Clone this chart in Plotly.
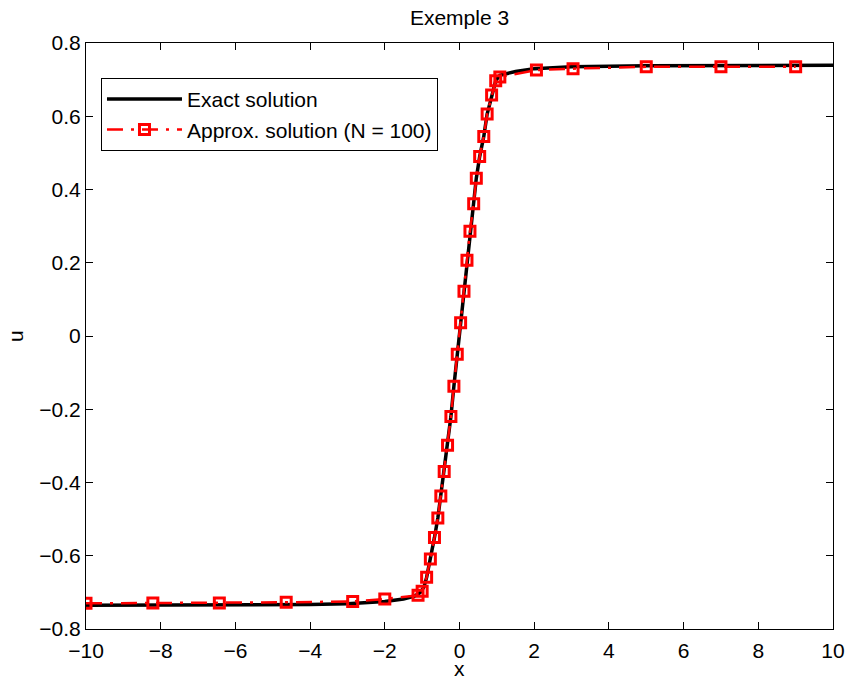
import plotly.graph_objects as go

# Exact solution
exact_x = [-10, -8, -6, -4, -3, -2, -1.5, -1.2, -1.05, -0.95, -0.88, -0.78, -0.67, -0.58,
           -0.5, -0.41, -0.32, -0.23, -0.15, -0.06, 0.03, 0.12, 0.2, 0.28, 0.38, 0.45,
           0.54, 0.65, 0.74, 0.86, 0.97, 1.08, 1.5, 2, 3, 5, 7, 10]
exact_u = [-0.735, -0.735, -0.734, -0.733, -0.731, -0.725, -0.718, -0.710, -0.700, -0.685,
           -0.659, -0.609, -0.550, -0.497, -0.437, -0.370, -0.298, -0.220, -0.137, -0.050,
           0.036, 0.122, 0.207, 0.286, 0.361, 0.431, 0.490, 0.545, 0.606, 0.658, 0.697,
           0.712, 0.722, 0.730, 0.735, 0.738, 0.739, 0.739]

# Approximate solution (N = 100), visible markers
approx_x = [-10, -8.21, -6.43, -4.64, -2.86, -2.0, -1.11, -1.0, -0.88, -0.78, -0.67, -0.58,
            -0.5, -0.41, -0.32, -0.23, -0.15, -0.06, 0.03, 0.12, 0.2, 0.28, 0.38, 0.45,
            0.54, 0.65, 0.74, 0.86, 0.97, 1.08, 2.06, 3.04, 5.0, 7.0, 9.0]
approx_u = [-0.730, -0.729, -0.729, -0.727, -0.725, -0.718, -0.708, -0.697, -0.659, -0.609,
            -0.550, -0.497, -0.437, -0.370, -0.298, -0.220, -0.137, -0.050, 0.036, 0.122,
            0.207, 0.286, 0.361, 0.431, 0.490, 0.545, 0.606, 0.658, 0.697, 0.707, 0.726,
            0.730, 0.735, 0.735, 0.735]

x_ticks = [-10, -8, -6, -4, -2, 0, 2, 4, 6, 8, 10]
u_ticks = [-0.8, -0.6, -0.4, -0.2, 0, 0.2, 0.4, 0.6, 0.8]
u_tick_text = ["\u22120.8", "\u22120.6", "\u22120.4", "\u22120.2", "0", "0.2", "0.4", "0.6", "0.8"]
x_tick_text = ["\u221210", "\u22128", "\u22126", "\u22124", "\u22122", "0", "2", "4", "6", "8", "10"]

FONT = "Liberation Sans, Arial, Helvetica, sans-serif"
FS = 21

W, H = 847, 683
L, R, T, B = 86, 13.5, 42.7, 53.7
PW, PH = W - L - R, H - T - B

fig = go.Figure()
fig.add_trace(go.Scatter(
    x=exact_x, y=exact_u, mode="lines", name="Exact solution",
    line=dict(color="black", width=3.5),
))
fig.add_trace(go.Scatter(
    x=approx_x, y=approx_u, mode="lines+markers", name="Approx. solution (N = 100)",
    line=dict(color="#ff0000", width=2.5, dash="16px,8px,3px,8px"),
    marker=dict(symbol="square-open", size=10, color="#ff0000", line=dict(width=3, color="#ff0000")),
))

axis_common = dict(
    showline=True, linecolor="black", linewidth=1, mirror="ticks",
    ticks="inside", ticklen=7, tickwidth=1, tickcolor="black",
    showgrid=False, zeroline=False, automargin=False,
    tickfont=dict(family=FONT, size=FS, color="black"),
)

fig.update_layout(
    width=W, height=H,
    margin=dict(l=L, r=R, t=T, b=B, autoexpand=False),
    paper_bgcolor="white", plot_bgcolor="white",
    title=dict(text="Exemple 3", x=459.5 / W, xanchor="center",
               y=1 - 17.5 / H, yanchor="middle",
               font=dict(family=FONT, size=FS, color="black")),
    xaxis=dict(range=[-10, 10], tickvals=x_ticks, ticktext=x_tick_text,
               ticklabelstandoff=3, **axis_common),
    yaxis=dict(range=[-0.8, 0.8], tickvals=u_ticks, ticktext=u_tick_text, **axis_common),
    legend=dict(x=15 / PW, y=1 - 35 / PH, xanchor="left", yanchor="top",
                bgcolor="white", bordercolor="black", borderwidth=1,
                font=dict(family=FONT, size=FS, color="black"),
                itemwidth=75, tracegroupgap=0),
    showlegend=True,
    annotations=[
        dict(text="x", xref="paper", yref="paper", x=0.5, y=-(682 - (H - B)) / PH,
             xanchor="center", yanchor="bottom", showarrow=False,
             font=dict(family=FONT, size=FS, color="black")),
        dict(text="u", xref="paper", yref="paper", x=(15 - L) / PW, y=0.5,
             xanchor="center", yanchor="middle", showarrow=False, textangle=-90,
             font=dict(family=FONT, size=FS, color="black")),
    ],
)

# remove the browser's default 8px body margin so the figure fills the window
fig.write_html("out.html", config={"displayModeBar": False},
               post_script="document.body.style.margin='0';document.body.style.overflow='hidden';")
